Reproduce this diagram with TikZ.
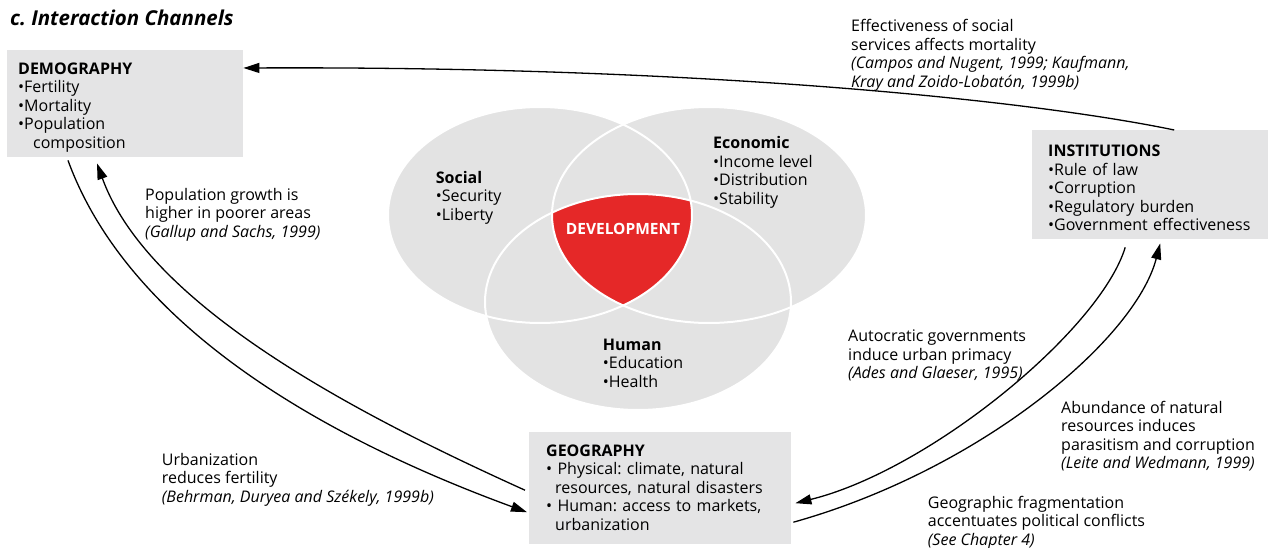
\documentclass[tikz,border=0pt]{standalone}
\usepackage{fontspec}
\setmainfont{Open Sans}
\usetikzlibrary{arrows.meta}
\definecolor{boxgray}{RGB}{228,228,229}
\definecolor{venngray}{RGB}{227,227,227}
\definecolor{devred}{RGB}{229,40,40}
\frenchspacing

\begin{document}
\begin{tikzpicture}[x=1pt,y=-1pt,font=\fontsize{16}{18.5}\selectfont,
            factor/.style={fill=boxgray,anchor=north west,align=left,inner ysep=0pt},
            note/.style={anchor=north west,align=left,inner sep=0pt},
            sphere/.style={fill=venngray},
            rim/.style={draw=white,line width=2pt},
            channel/.style={line width=1.3pt,-{Triangle[length=16pt,width=10pt]}}]
            \useasboundingbox (0,0) rectangle (1280,548);
            \node[anchor=base west,inner sep=0pt,font=\fontsize{20.5}{23}\selectfont\bfseries\itshape] (title) at (10,26) {c. Interaction Channels};
            \coordinate (social) at (540,215);
            \coordinate (economic) at (709,215);
            \coordinate (human) at (638,302);
            \foreach \c/\rx in {social/152pt,economic/157pt,human/153pt}
                \path[sphere] (\c) ellipse [x radius=\rx,y radius=108pt];
            \begin{scope}
                \clip (social) ellipse [x radius=152pt,y radius=108pt];
                \clip (economic) ellipse [x radius=157pt,y radius=108pt];
                \fill[devred] (human) ellipse [x radius=153pt,y radius=108pt];
            \end{scope}
            \foreach \c/\rx in {social/152pt,economic/157pt,human/153pt}
                \draw[rim] (\c) ellipse [x radius=\rx,y radius=108pt];
            \node[note] (socialtext) at (435.7,170) {\strut\textbf{Social}\\•Security\\•Liberty};
            \node[note] (economictext) at (713,135.4) {\strut\textbf{Economic}\\•Income level\\•Distribution\\•Stability};
            \node[note] (humantext) at (602.7,337) {\strut\textbf{Human}\\•Education\\•Health};
            \node[anchor=base,inner sep=0pt,text=white,font=\fontsize{15.5}{18}\selectfont\bfseries] (development) at (623,235) {DEVELOPMENT};
            \node[factor,inner xsep=11pt,text width=214pt] (demo) at (7,50)
                {\rule{0pt}{24pt}\textbf{DEMOGRAPHY}\\•Fertility\\•Mortality\\•Population\\\hspace*{15pt}composition\rule[-9pt]{0pt}{9pt}};
            \node[factor,inner xsep=16pt,text width=204pt] (inst) at (1032,130)
                {\rule{0pt}{26.5pt}\textbf{INSTITUTIONS}\\•Rule of law\\•Corruption\\•Regulatory burden\\•Government effectiveness\rule[-8.5pt]{0pt}{8.5pt}};
            \node[factor,inner xsep=17pt,text width=228pt] (geo) at (529,432)
                {\rule{0pt}{24pt}\textbf{GEOGRAPHY}\\• Physical: climate, natural\\\hspace*{9pt}resources, natural disasters\\• Human: access to markets,\\\hspace*{9pt}urbanization\rule[-14pt]{0pt}{14pt}};
            \draw[channel] ([xshift=24pt]inst.north) .. controls (1030,100) and (700,66) .. ([yshift=-18pt]demo.north east);
            \draw[channel] ([xshift=61pt,yshift=-3pt]demo.south west) .. controls (130,330) and (330,440) .. ([xshift=-2pt,yshift=-24pt]geo.west);
            \draw[channel] ([xshift=-4pt,yshift=-2pt]geo.west) .. controls (370,420) and (150,310) .. ([xshift=90pt,yshift=-6pt]demo.south west);
            \draw[channel] ([xshift=-25pt,yshift=-8pt]inst.south) .. controls (1100,330) and (930,470) .. ([xshift=4pt,yshift=-15pt]geo.east);
            \draw[channel] ([xshift=2pt,yshift=-34pt]geo.east) .. controls (980,470) and (1135,340) .. ([xshift=10pt,yshift=-4pt]inst.south);
            \node[note] (mortalitynote) at (851,18.75) {\strut Effectiveness of social\\services affects mortality\\\textit{(Campos and Nugent, 1999; Kaufmann,}\\\textit{Kray and Zoido-Lobatón, 1999b)}};
            \node[note] (growthnote) at (145,187) {\strut Population growth is\\higher in poorer areas\\\textit{(Gallup and Sachs, 1999)}};
            \node[note] (urbannote) at (161.7,452) {\strut Urbanization\\reduces fertility\\\textit{(Behrman, Duryea and Székely, 1999b)}};
            \node[note] (primacynote) at (848,328.7) {\strut Autocratic governments\\induce urban primacy\\\textit{(Ades and Glaeser, 1995)}};
            \node[note] (resourcenote) at (1061,400) {\strut Abundance of natural\\resources induces\\parasitism and corruption\\\textit{(Leite and Wedmann, 1999)}};
            \node[note] (conflictnote) at (927.7,495) {\strut Geographic fragmentation\\accentuates political conflicts\\\textit{(See Chapter 4)}};
        \end{tikzpicture}
\end{document}
